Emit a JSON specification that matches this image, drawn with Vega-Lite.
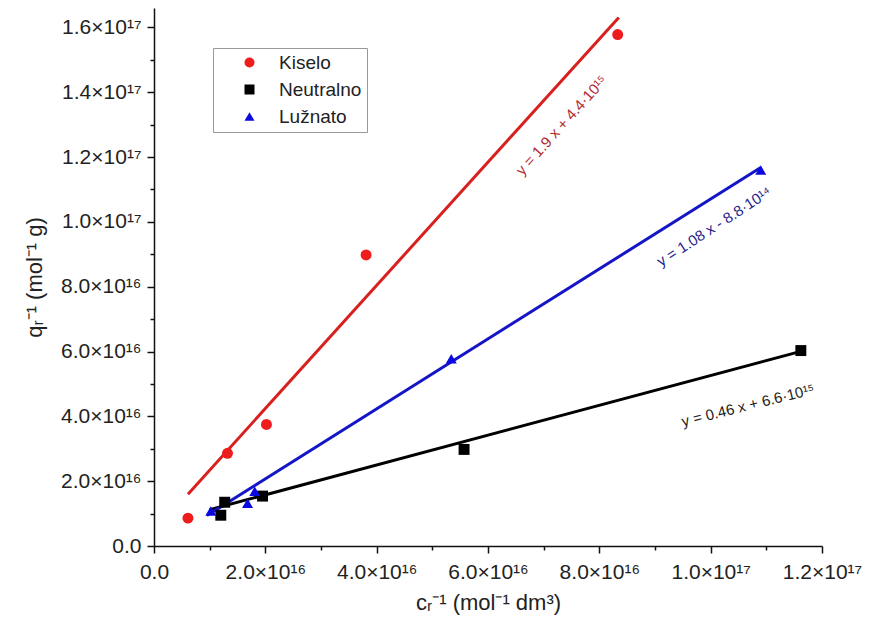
{
  "$schema": "https://vega.github.io/schema/vega-lite/v6.json",
  "autosize": "none",
  "width": 668,
  "height": 538,
  "padding": {"left": 154, "top": 8, "right": 47, "bottom": 93},
  "background": "white",
  "config": {
    "view": {"stroke": null},
    "font": "Liberation Sans",
    "axis": {"labelFont": "Liberation Sans", "titleFont": "Liberation Sans", "domainColor": "#111", "tickColor": "#111", "labelColor": "#222", "titleColor": "#222", "domainWidth": 1.5, "tickWidth": 1.5, "grid": false, "labelFlush": false, "labelOverlap": false}
  },
  "datasets": {
    "points": [
      {"group": "Kiselo", "x": 0.61e16, "y": 0.86e16},
      {"group": "Kiselo", "x": 1.32e16, "y": 2.86e16},
      {"group": "Kiselo", "x": 2.02e16, "y": 3.75e16},
      {"group": "Kiselo", "x": 3.81e16, "y": 8.98e16},
      {"group": "Kiselo", "x": 8.33e16, "y": 1.578e17},
      {"group": "Neutralno", "x": 1.2e16, "y": 0.95e16},
      {"group": "Neutralno", "x": 1.27e16, "y": 1.35e16},
      {"group": "Neutralno", "x": 1.95e16, "y": 1.54e16},
      {"group": "Neutralno", "x": 5.57e16, "y": 2.98e16},
      {"group": "Neutralno", "x": 1.162e17, "y": 6.03e16},
      {"group": "Lužnato", "x": 1.02e16, "y": 1.08e16},
      {"group": "Lužnato", "x": 1.68e16, "y": 1.32e16},
      {"group": "Lužnato", "x": 1.81e16, "y": 1.69e16},
      {"group": "Lužnato", "x": 5.34e16, "y": 5.78e16},
      {"group": "Lužnato", "x": 1.09e17, "y": 1.16e17}
    ],
    "fits": [
      {"group": "Kiselo", "x": 0.61e16, "y": 1.599e16},
      {"group": "Kiselo", "x": 8.35e16, "y": 1.631e17},
      {"group": "Neutralno", "x": 1.0e16, "y": 1.12e16},
      {"group": "Neutralno", "x": 1.162e17, "y": 6.005e16},
      {"group": "Lužnato", "x": 0.95e16, "y": 0.938e16},
      {"group": "Lužnato", "x": 1.09e17, "y": 1.168e17}
    ],
    "labels": [
      {"group": "Kiselo", "x": 7.32e16, "y": 1.298e17, "text": "y = 1.9 x + 4.4·10¹⁵"},
      {"group": "Lužnato", "x": 1.006e17, "y": 9.85e16, "text": "y = 1.08 x - 8.8·10¹⁴"},
      {"group": "Neutralno", "x": 1.067e17, "y": 4.34e16, "text": "y = 0.46 x + 6.6·10¹⁵"}
    ]
  },
  "encoding": {
    "x": {
      "field": "x", "type": "quantitative",
      "scale": {"domain": [0, 1.2e17], "nice": false, "zero": false},
      "axis": {
        "title": "cᵣ⁻¹ (mol⁻¹ dm³)",
        "titleFontSize": 22, "titleFontWeight": "normal", "titlePadding": 10,
        "labelFontSize": 21, "labelPadding": 8,
        "values": [0, 1e16, 2e16, 3e16, 4e16, 5e16, 6e16, 7e16, 8e16, 9e16, 1e17, 1.1e17, 1.2e17],
        "tickSize": {"condition": {"test": "round(datum.value/1e16) % 2 == 1", "value": 4}, "value": 7},
        "labelExpr": "round(datum.value/1e16) % 2 == 1 ? '' : (datum.value == 0 ? '0.0' : format(datum.value / pow(10, floor(log(datum.value)/LN10 + 1e-6)), '.1f') + '×10' + (floor(log(datum.value)/LN10 + 1e-6) == 16 ? '¹⁶' : '¹⁷'))"
      }
    },
    "y": {
      "field": "y", "type": "quantitative",
      "scale": {"domain": [0, 1.66e17], "nice": false, "zero": false},
      "axis": {
        "title": "qᵣ⁻¹ (mol⁻¹ g)",
        "titleFontSize": 22, "titleFontWeight": "normal", "titlePadding": 14,
        "labelFontSize": 21, "labelPadding": 6,
        "values": [0, 1e16, 2e16, 3e16, 4e16, 5e16, 6e16, 7e16, 8e16, 9e16, 1e17, 1.1e17, 1.2e17, 1.3e17, 1.4e17, 1.5e17, 1.6e17],
        "tickSize": {"condition": {"test": "round(datum.value/1e16) % 2 == 1", "value": 4}, "value": 7},
        "labelExpr": "round(datum.value/1e16) % 2 == 1 ? '' : (datum.value == 0 ? '0.0' : format(datum.value / pow(10, floor(log(datum.value)/LN10 + 1e-6)), '.1f') + '×10' + (floor(log(datum.value)/LN10 + 1e-6) == 16 ? '¹⁶' : '¹⁷'))"
      }
    }
  },
  "layer": [
    {
      "data": {"name": "fits"},
      "transform": [{"filter": "datum.group == 'Kiselo'"}],
      "mark": {"type": "line", "color": "#d8201f", "strokeWidth": 3},
      "encoding": {}
    },
    {
      "data": {"name": "fits"},
      "transform": [{"filter": "datum.group == 'Neutralno'"}],
      "mark": {"type": "line", "color": "#000000", "strokeWidth": 3},
      "encoding": {}
    },
    {
      "data": {"name": "fits"},
      "transform": [{"filter": "datum.group == 'Lužnato'"}],
      "mark": {"type": "line", "color": "#1515c8", "strokeWidth": 3},
      "encoding": {}
    },
    {
      "data": {"name": "points"},
      "mark": {"type": "point", "filled": true, "opacity": 1, "size": 120},
      "encoding": {
        "color": {
          "field": "group", "type": "nominal",
          "scale": {"domain": ["Kiselo", "Neutralno", "Lužnato"], "range": ["#ee1c1c", "#000000", "#0a0ae0"]},
          "legend": {
            "title": null, "orient": "none", "legendX": 59, "legendY": 40,
            "strokeColor": "#999", "padding": 5, "fillColor": "white",
            "labelFontSize": 19, "labelFont": "Liberation Sans", "labelColor": "#222",
            "symbolSize": 100, "symbolOffset": 22, "rowPadding": 7, "labelOffset": 20, "offset": 0
          }
        },
        "shape": {
          "field": "group", "type": "nominal",
          "scale": {"domain": ["Kiselo", "Neutralno", "Lužnato"], "range": ["circle", "square", "triangle-up"]}
        }
      }
    },
    {
      "data": {"name": "labels"},
      "transform": [{"filter": "datum.group == 'Kiselo'"}],
      "mark": {"type": "text", "angle": -48, "fontSize": 15, "color": "#b02a30", "align": "center", "baseline": "middle"},
      "encoding": {"text": {"field": "text"}}
    },
    {
      "data": {"name": "labels"},
      "transform": [{"filter": "datum.group == 'Lužnato'"}],
      "mark": {"type": "text", "angle": -33, "fontSize": 15, "color": "#23238c", "align": "center", "baseline": "middle"},
      "encoding": {"text": {"field": "text"}}
    },
    {
      "data": {"name": "labels"},
      "transform": [{"filter": "datum.group == 'Neutralno'"}],
      "mark": {"type": "text", "angle": -14, "fontSize": 15, "color": "#222222", "align": "center", "baseline": "middle"},
      "encoding": {"text": {"field": "text"}}
    }
  ]
}
